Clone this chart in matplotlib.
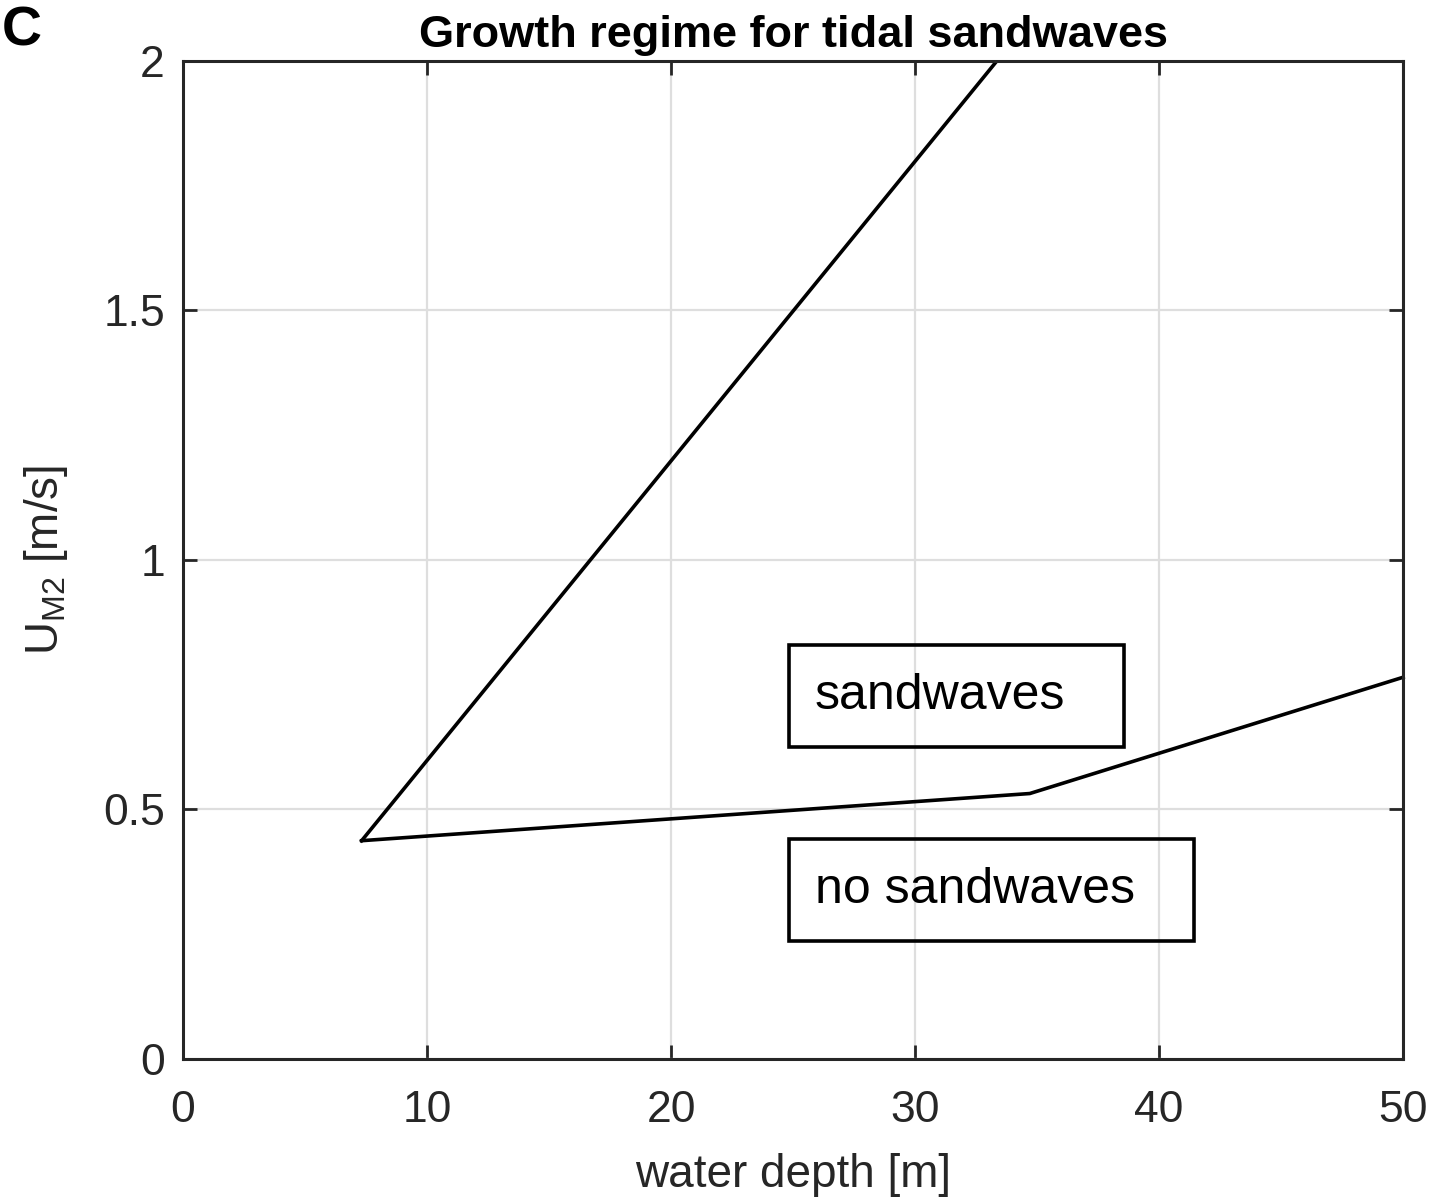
import matplotlib
matplotlib.use("Agg")
from matplotlib import pyplot as plt
from matplotlib.patches import Rectangle

plt.rcParams['font.family'] = ['Liberation Sans', 'DejaVu Sans']

# boundary of the growth regime (vertex, upper branch, lower branch)
upper_x = [7.32, 33.35]
upper_y = [0.4375, 2.0]
lower_x = [7.32, 34.7, 50.0]
lower_y = [0.4375, 0.532, 0.765]

x_ticks = [0, 10, 20, 30, 40, 50]
y_ticks = [0, 0.5, 1, 1.5, 2]
y_tick_labels = ['0', '0.5', '1', '1.5', '2']

grey = '#262626'

fig = plt.figure(figsize=(14.48, 12.03), dpi=100)
ax = fig.add_axes([0.1264, 0.1197, 0.9690 - 0.1264, 0.9493 - 0.1197])

ax.plot(upper_x, upper_y, color='black', lw=2.6, solid_joinstyle='miter')
ax.plot(lower_x, lower_y, color='black', lw=2.6, solid_joinstyle='miter', clip_on=False)

ax.set_xlim(0, 50)
ax.set_ylim(0, 2)
ax.set_xticks(x_ticks)
ax.set_yticks(y_ticks)
ax.set_yticklabels(y_tick_labels)
ax.grid(True, color='#dedede', lw=1.6)
ax.set_axisbelow(True)
ax.tick_params(direction='in', length=10, width=2.0, top=True, right=True,
               labelsize=32, colors=grey)
ax.tick_params(axis='x', pad=22)
ax.tick_params(axis='y', pad=13)
for s in ax.spines.values():
    s.set_linewidth(2.2)
    s.set_color(grey)

ax.set_xlabel('water depth [m]', fontsize=33, color=grey, labelpad=16)
ax.set_ylabel(r'U$_{\mathregular{M2}}$ [m/s]', fontsize=33, color=grey, labelpad=24)
ax.set_title('Growth regime for tidal sandwaves', fontsize=32.5, fontweight='bold', pad=10)

# labelled regions
ax.add_patch(Rectangle((24.84, 0.625), 38.57 - 24.84, 0.830 - 0.625,
                       fill=False, ec='black', lw=2.6))
ax.text(25.9, 0.727, 'sandwaves', fontsize=36, va='center', ha='left')
ax.add_patch(Rectangle((24.84, 0.236), 41.43 - 24.84, 0.441 - 0.236,
                       fill=False, ec='black', lw=2.6))
ax.text(25.9, 0.339, 'no sandwaves', fontsize=36, va='center', ha='left')

fig.text(0.001, 0.974, 'C', fontsize=40, fontweight='bold', va='center', ha='left')

fig.savefig('out.png', dpi=100)
